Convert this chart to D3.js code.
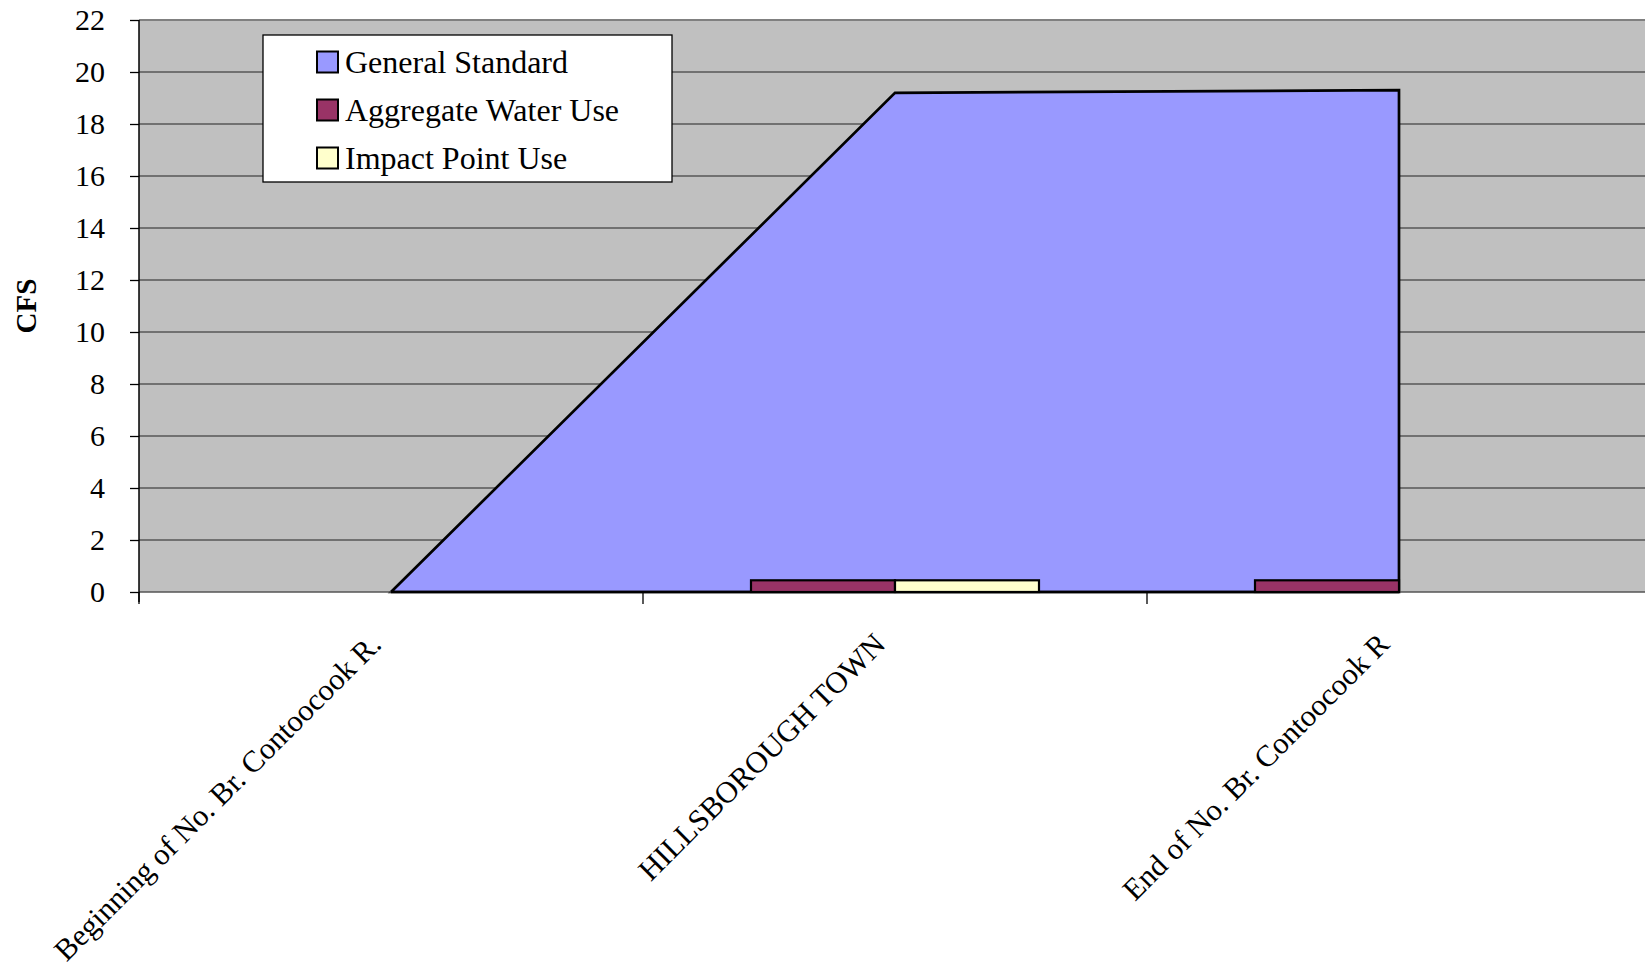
<!DOCTYPE html>
<html>
<head>
<meta charset="utf-8">
<script src="https://cdn.jsdelivr.net/npm/d3@7"></script>
<style>
  html, body { margin: 0; padding: 0; background: #fff; }
  svg { display: block; font-family: "Liberation Serif", "Times New Roman", serif; }
</style>
</head>
<body>
<svg id="chart" width="1645" height="967"></svg>
<script>
// ---- data ----
const categories = ["Beginning of No. Br. Contoocook R.", "HILLSBOROUGH TOWN", "End of No. Br. Contoocook R"];
const generalStandard = [0, 19.2, 19.3];
const aggregateWaterUse = [0, 0.45, 0.45];
const impactPointUse = [0, 0.45, 0];
const seriesNames = ["General Standard", "Aggregate Water Use", "Impact Point Use"];
const yTicks = [0, 2, 4, 6, 8, 10, 12, 14, 16, 18, 20, 22];

// ---- layout ----
const colors = { std: "#9999FF", agg: "#993366", imp: "#FFFFCC" };
const plot = { left: 139, top: 20, right: 1651, bottom: 592 };

const svg = d3.select("#chart");

const x0 = d3.scaleBand().domain(categories).range([plot.left, plot.right]).padding(0);
const x1 = d3.scaleBand().domain(["agg", "imp"]).range([0, x0.bandwidth()])
  .paddingInner(0).paddingOuter(0.75);
const y = d3.scaleLinear().domain([0, 22]).range([plot.bottom, plot.top]);
const cx = c => x0(c) + x0.bandwidth() / 2;

// plot background
svg.append("rect")
  .attr("x", plot.left).attr("y", plot.top)
  .attr("width", plot.right - plot.left).attr("height", plot.bottom - plot.top)
  .attr("fill", "#C0C0C0");

// gridlines
svg.append("g").selectAll("line")
  .data(yTicks.filter(t => t > 0))
  .join("line")
  .attr("x1", plot.left).attr("x2", plot.right)
  .attr("y1", d => y(d)).attr("y2", d => y(d))
  .attr("stroke", d => d === 22 ? "#808080" : "#222")
  .attr("stroke-width", d => d === 22 ? 2 : 1.2);

// area (General Standard)
const areaData = categories.map((c, i) => ({ c, v: generalStandard[i] }));
const area = d3.area()
  .x(d => cx(d.c))
  .y0(y(0))
  .y1(d => y(d.v));
svg.append("path")
  .datum(areaData)
  .attr("d", area(areaData))
  .attr("fill", colors.std)
  .attr("stroke", "#000")
  .attr("stroke-width", 2.7)
  .attr("stroke-linejoin", "miter");

// x axis line (value 0)
svg.append("line")
  .attr("x1", plot.left).attr("x2", plot.right)
  .attr("y1", y(0)).attr("y2", y(0))
  .attr("stroke", "#555").attr("stroke-width", 1.5);
// black base of area over axis
svg.append("line")
  .attr("x1", cx(categories[0])).attr("x2", cx(categories[2]))
  .attr("y1", y(0)).attr("y2", y(0))
  .attr("stroke", "#000").attr("stroke-width", 2.7);

// bars
const barData = [];
categories.forEach((c, i) => {
  barData.push({ c, key: "agg", v: aggregateWaterUse[i] });
  barData.push({ c, key: "imp", v: impactPointUse[i] });
});
svg.append("g").selectAll("rect")
  .data(barData.filter(d => d.v > 0))
  .join("rect")
  .attr("x", d => x0(d.c) + x1(d.key))
  .attr("y", d => y(d.v))
  .attr("width", x1.bandwidth())
  .attr("height", d => y(0) - y(d.v))
  .attr("fill", d => colors[d.key])
  .attr("stroke", "#000")
  .attr("stroke-width", 2.2);

// y axis
const yAxis = d3.axisLeft(y).tickValues(yTicks).tickSize(9).tickPadding(25).tickFormat(d3.format("d"));
const gy = svg.append("g").attr("transform", `translate(${plot.left},0)`).call(yAxis);
gy.select(".domain").remove();
gy.selectAll(".tick line").attr("stroke", "#000").attr("stroke-width", 1.3);
gy.selectAll(".tick text").attr("font-size", 30).attr("fill", "#000")
  .attr("font-family", "Liberation Serif, Times New Roman, serif");
svg.append("line")
  .attr("x1", plot.left).attr("x2", plot.left)
  .attr("y1", plot.top).attr("y2", plot.bottom + 10)
  .attr("stroke", "#000").attr("stroke-width", 1.5);

// x category ticks at boundaries
const boundaries = categories.map(c => x0(c));
svg.append("g").selectAll("line")
  .data(boundaries)
  .join("line")
  .attr("x1", d => d).attr("x2", d => d)
  .attr("y1", plot.bottom).attr("y2", plot.bottom + 12)
  .attr("stroke", "#000").attr("stroke-width", 1.3);

// category labels
svg.append("g").selectAll("text")
  .data(categories)
  .join("text")
  .attr("transform", d => `translate(${cx(d) - 8},${646}) rotate(-45)`)
  .attr("text-anchor", "end")
  .attr("font-size", 30.4)
  .attr("fill", "#000")
  .text(d => d);

// y title
svg.append("text")
  .attr("transform", `translate(36,${(plot.top + plot.bottom) / 2}) rotate(-90)`)
  .attr("text-anchor", "middle")
  .attr("font-size", 29)
  .attr("font-weight", "bold")
  .text("CFS");

// legend
const lg = svg.append("g");
lg.append("rect")
  .attr("x", 263).attr("y", 35).attr("width", 409).attr("height", 147)
  .attr("fill", "#fff").attr("stroke", "#000").attr("stroke-width", 1.3);
const legendColors = [colors.std, colors.agg, colors.imp];
const rows = lg.selectAll("g.row").data(seriesNames).join("g")
  .attr("class", "row")
  .attr("transform", (d, i) => `translate(0,${62 + i * 48})`);
rows.append("rect")
  .attr("x", 317).attr("y", -10.5).attr("width", 21).attr("height", 21)
  .attr("fill", (d, i) => legendColors[i])
  .attr("stroke", "#000").attr("stroke-width", 2);
rows.append("text")
  .attr("x", 345).attr("y", 0).attr("dy", "0.35em")
  .attr("font-size", 32)
  .attr("fill", "#000")
  .text(d => d);
</script>
</body>
</html>
